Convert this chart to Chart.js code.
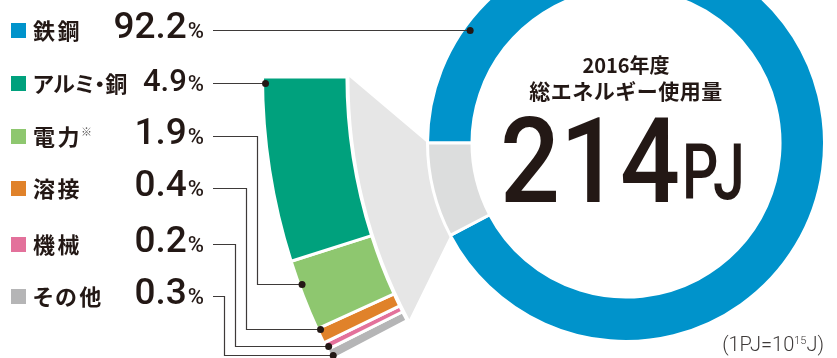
<!DOCTYPE html>
<html>
<head>
<meta charset="utf-8">
<script src="https://cdn.jsdelivr.net/npm/chart.js@4"></script>
<style>
  html, body { margin: 0; padding: 0; background: #fff; }
  #wrap { position: relative; width: 837px; height: 358px; overflow: hidden; color: #231815;
          font-family: "Noto Sans CJK JP", "Noto Sans", sans-serif; }
  canvas { position: absolute; }
  .t { position: absolute; white-space: nowrap; line-height: 1; z-index: 5; }
  .lab { font-weight: 700; font-size: 22px; font-feature-settings: "palt"; letter-spacing: 2.5px; }
  .num { font-family: Roboto, "Noto Sans", sans-serif; font-weight: 500; text-align: right; }
  .num span { font-size: 22px; margin-left: 1px; }
  .sq { position: absolute; width: 15px; height: 15px; z-index: 5; }
</style>
</head>
<body>
<div id="wrap">
  <canvas id="barCv" width="1218" height="1218" style="left:261px;top:-532px;width:1218px;height:1218px"></canvas>
  <canvas id="ringCv" width="400" height="400" style="left:426px;top:-57px;width:400px;height:400px"></canvas>
  <canvas id="lineCv" width="837" height="358" style="left:0;top:0;width:837px;height:358px;z-index:4"></canvas>
</div>
<script>
// values
const categories = ['鉄鋼', 'アルミ・銅', '電力', '溶接', '機械', 'その他'];
const shares = [92.2, 4.9, 1.9, 0.4, 0.2, 0.3];
const shareLabels = ['92.2', '4.9', '1.9', '0.4', '0.2', '0.3'];
const colors = ['#0093cb', '#00a17d', '#8ec76f', '#e0822a', '#e3719b', '#b5b5b6'];
const yearLabel = '2016年度';
const titleLabel = '総エネルギー使用量';
const totalLabel = '214';
const unitLabel = 'PJ';

// layout of the legend rows and leader lines
const rowY = [30, 83, 136, 188, 244, 296];
const dotY = [30, 83, 284, 329, 346, 355];
const elbowX = [0, 0, 257, 246, 235, 224];
const numSize = [37, 31, 37, 37, 37, 37];

const wrap = document.getElementById('wrap');
const barCv = document.getElementById('barCv');
const ringCv = document.getElementById('ringCv');
const lineCv = document.getElementById('lineCv');

const restTotal = shares.slice(1).reduce((a, b) => a + b, 0);
const allTotal = shares.reduce((a, b) => a + b, 0);

// main ring: steel vs everything else
const ringChart = new Chart(ringCv, {
  type: 'doughnut',
  data: {
    labels: [categories[0], 'その他合計'],
    datasets: [{
      data: [shares[0], restTotal],
      backgroundColor: [colors[0], '#dcdddd'],
      borderColor: '#fff',
      borderWidth: 3
    }]
  },
  options: {
    responsive: false,
    devicePixelRatio: 1,
    animation: false,
    events: [],
    rotation: 270,
    cutout: '77.6%',
    plugins: { legend: { display: false }, tooltip: { enabled: false } }
  }
});

// grey fan joining the ring slice to the exploded arc
const fanPlugin = {
  id: 'fan',
  beforeDatasetsDraw(chart) {
    const arcs = chart.getDatasetMeta(0).data;
    const first = arcs[0], last = arcs[arcs.length - 2];
    const ring = ringChart.getDatasetMeta(0).data[1];
    const ox = ringCv.offsetLeft - barCv.offsetLeft;
    const oy = ringCv.offsetTop - barCv.offsetTop;
    const rx = ox + ring.x, ry = oy + ring.y, R = ring.outerRadius;
    const ctx = chart.ctx;
    ctx.save();
    ctx.beginPath();
    ctx.arc(first.x, first.y, first.innerRadius - 2.5, first.startAngle, last.endAngle);
    ctx.lineTo(rx + R * Math.cos(ring.endAngle), ry + R * Math.sin(ring.endAngle));
    ctx.arc(rx, ry, R, ring.endAngle, ring.startAngle, true);
    ctx.closePath();
    ctx.fillStyle = '#e6e6e6';
    ctx.fill();
    ctx.restore();
  }
};

// exploded arc of the small categories (steel kept as an invisible remainder)
const barData = shares.slice(1).reverse().concat([shares[0]]);
const barColors = colors.slice(1).reverse().concat(['rgba(0,0,0,0)']);
const barBorders = barData.map((v, i) => i === barData.length - 1 ? 0 : 3);

const barChart = new Chart(barCv, {
  type: 'doughnut',
  data: {
    labels: categories.slice(1).reverse().concat([categories[0]]),
    datasets: [{
      data: barData,
      backgroundColor: barColors,
      borderColor: '#fff',
      borderWidth: barBorders
    }]
  },
  options: {
    responsive: false,
    devicePixelRatio: 1,
    animation: false,
    events: [],
    rotation: 270 - restTotal / allTotal * 360,
    cutout: '86.1%',
    plugins: { legend: { display: false }, tooltip: { enabled: false } }
  },
  plugins: [fanPlugin]
});

// leader lines with dots
function drawLeaders() {
  const ctx = lineCv.getContext('2d');
  ctx.strokeStyle = '#3e3a39';
  ctx.lineWidth = 1.2;
  ctx.fillStyle = '#231815';
  const ringArc = ringChart.getDatasetMeta(0).data[0];
  const barArcs = barChart.getDatasetMeta(0).data;
  categories.forEach((c, i) => {
    let arc, cv, r;
    if (i === 0) { arc = ringArc; cv = ringCv; r = arc.outerRadius - 6; }
    else { arc = barArcs[barArcs.length - 1 - i]; cv = barCv; r = arc.outerRadius - 3; }
    const cx = cv.offsetLeft + arc.x, cy = cv.offsetTop + arc.y;
    const y = dotY[i];
    const x = cx - Math.sqrt(r * r - (y - cy) * (y - cy));
    ctx.beginPath();
    ctx.moveTo(213, rowY[i] + 0.5);
    if (elbowX[i]) {
      ctx.lineTo(elbowX[i] + 0.5, rowY[i] + 0.5);
      ctx.lineTo(elbowX[i] + 0.5, y + 0.5);
    }
    ctx.lineTo(x, y + 0.5);
    ctx.stroke();
    ctx.beginPath();
    ctx.arc(x, y + 0.5, 3.5, 0, Math.PI * 2);
    ctx.fill();
  });
}
drawLeaders();

function addText(html, cls, css) {
  const d = document.createElement('div');
  d.className = 't ' + cls;
  d.innerHTML = html;
  Object.assign(d.style, css);
  wrap.appendChild(d);
  return d;
}

// legend rows
categories.forEach((c, i) => {
  const sq = document.createElement('div');
  sq.className = 'sq';
  Object.assign(sq.style, { left: '11px', top: (rowY[i] - 7.5) + 'px', background: colors[i] });
  wrap.appendChild(sq);
  const lab = addText(c, 'lab', { left: '33px', top: (rowY[i] - 12.5) + 'px' });
  if (c === 'アルミ・銅') lab.style.letterSpacing = '0px';
  if (c === '電力') {
    addText('※', '', { left: '81px', top: '126px', fontSize: '11px', color: '#595757' });
  }
  const fs = numSize[i];
  addText(shareLabels[i] + '<span>%</span>', 'num', {
    right: (837 - 204) + 'px', top: (rowY[i] + 8 - 0.84 * fs) + 'px', fontSize: fs + 'px'
  });
});

// centre texts
addText(yearLabel, '', { left: '626px', top: '55px', transform: 'translateX(-50%)', fontSize: '20px', fontWeight: 700 });
addText(titleLabel, '', { left: '626px', top: '80px', transform: 'translateX(-50%)', fontSize: '21px', fontWeight: 700, letterSpacing: '0.5px' });
addText(totalLabel, 'num', { left: '500px', top: (202 - 0.84 * 118) + 'px', fontSize: '118px', transform: 'scaleX(0.895)', transformOrigin: 'left top' });
addText(unitLabel, 'num', { left: '682px', top: (200 - 0.84 * 77) + 'px', fontSize: '77px', transform: 'scaleX(0.74)', transformOrigin: 'left top' });
addText('(1PJ=10<sup style="font-size:11px;vertical-align:7px">15</sup>J)', '', {
  right: (837 - 824) + 'px', top: (351 - 0.84 * 20) + 'px', fontSize: '20px',
  fontFamily: 'Roboto, sans-serif', fontWeight: 300, color: '#3e3a39'
});
</script>
</body>
</html>
